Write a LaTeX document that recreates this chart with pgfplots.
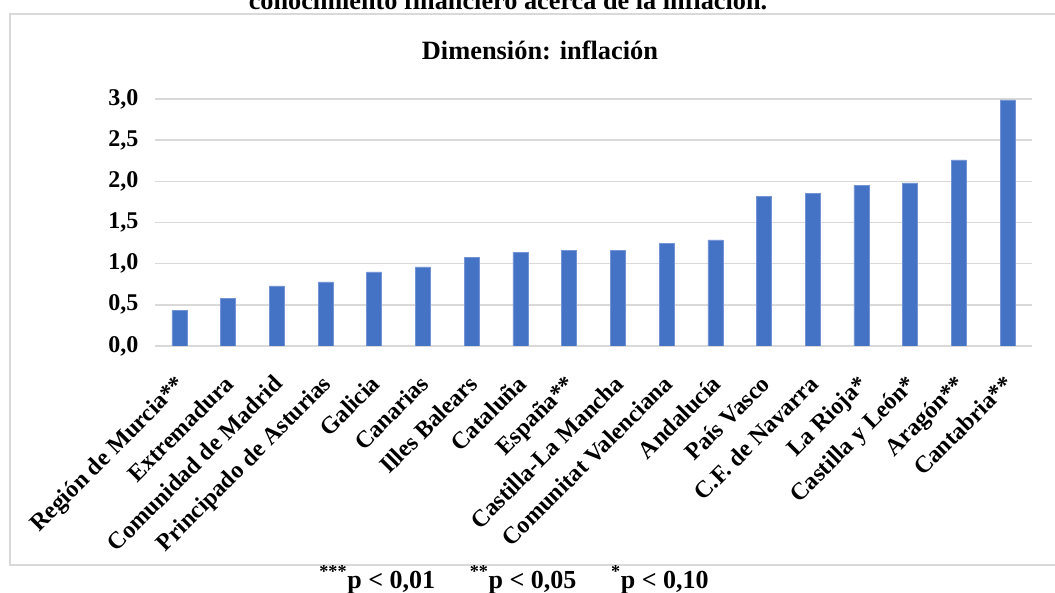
\documentclass[border=0pt]{standalone}
\usepackage{fontspec}
\setmainfont{Liberation Serif}
\usepackage{pgfplots}
\pgfplotsset{compat=1.18}
\definecolor{barblue}{RGB}{68,114,196}
\definecolor{gridgray}{RGB}{217,217,217}
\begin{document}
\begin{tikzpicture}[x=0.75pt,y=0.75pt]
\useasboundingbox (0,0) rectangle (1055,592);
\clip (0,0) rectangle (1055,592);
\draw[gridgray, line width=1.2pt] (10,578) rectangle (1075,27);
\node[anchor=base] at (508,582) {\bfseries\fontsize{19.7}{23}\selectfont conocimiento financiero acerca de la inflación.};
\node[anchor=base] at (540,532) {\bfseries\fontsize{19.8}{24}\selectfont Dimensión: inflación};
\node[anchor=base] at (514,4) {\bfseries\fontsize{19.5}{23}\selectfont \textsuperscript{***}p < 0,01\hspace{26pt}\textsuperscript{**}p < 0,05\hspace{26pt}\textsuperscript{*}p < 0,10};
\begin{axis}[
  at={(116.25pt,184.5pt)}, anchor=south west,
  scale only axis, width=657.75pt, height=185.25pt,
  xmin=-0.5, xmax=17.5, ymin=0, ymax=3,
  ybar, bar width=11.25pt,
  axis line style={draw=none}, tick style={draw=none},
  ymajorgrids, major grid style={gridgray, line width=1.1pt},
  ytick={0,0.5,1,1.5,2,2.5,3},
  /pgf/number format/.cd, fixed, fixed zerofill, precision=1, use comma, assume math mode=true,
  /pgfplots/.cd,
  yticklabel style={font=\bfseries\fontsize{18}{21}\selectfont, xshift=-9pt},
  xtick={0,...,17},
  xticklabels={Región de Murcia**, Extremadura, Comunidad de Madrid, Principado de Asturias, Galicia, Canarias, Illes Balears, Cataluña, España**, Castilla-La Mancha, Comunitat Valenciana, Andalucía, País Vasco, C.F. de Navarra, La Rioja*, Castilla y León*, Aragón**, Cantabria**},
  xticklabel style={rotate=45, anchor=north east, inner sep=0pt, font=\bfseries\fontsize{18}{21}\selectfont, yshift=-9pt, xshift=-14pt},
]
\addplot[fill=barblue, draw=barblue!75!white, line width=0.4pt] coordinates {
(0,0.43) (1,0.58) (2,0.73) (3,0.78) (4,0.90) (5,0.96) (6,1.08) (7,1.14) (8,1.16)
(9,1.16) (10,1.25) (11,1.29) (12,1.82) (13,1.85) (14,1.95) (15,1.98) (16,2.26) (17,2.99)};
\end{axis}
\end{tikzpicture}
\end{document}
